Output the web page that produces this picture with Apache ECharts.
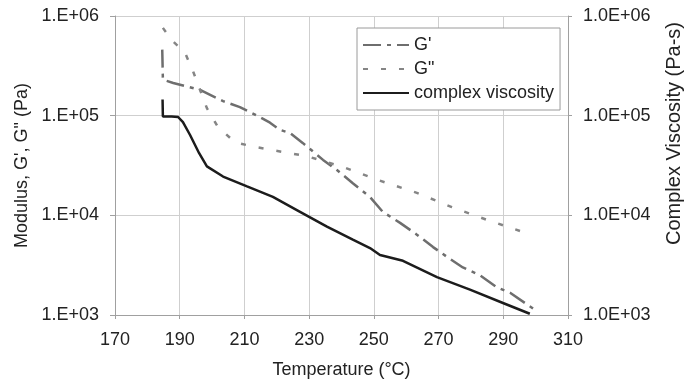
<!DOCTYPE html>
<html>
<head>
<meta charset="utf-8">
<script src="https://cdn.jsdelivr.net/npm/echarts@6/dist/echarts.min.js"></script>
<style>
html,body{margin:0;padding:0;background:#fff;}
#chart{width:684px;height:385px;}
</style>
</head>
<body>
<div id="chart"></div>
<script>
// Temperature (°C) and values
var gPrimeT   = [184.6, 184.8, 188.0, 196.3, 203.4, 208.6, 213.9, 217.9, 221.0, 224.1, 228.1, 234.3, 238.6, 243.5, 248.8, 252.8, 258.1, 263.3, 268.3, 272.6, 277.5, 282.8, 288.0, 292.1, 299.4];
var gPrimeV   = [460000, 230000, 213000, 181000, 140000, 122000, 100000, 85000, 72000, 67000, 53000, 36000, 28500, 21000, 15300, 10800, 8400, 6400, 4800, 3830, 3000, 2500, 1900, 1670, 1150];

var gDoubleT  = [184.8, 187.6, 191.6, 194.1, 198.4, 201.8, 207.1, 212.6, 218.8, 224.1, 229.6, 240.5, 251.3, 263.3, 274.1, 285.0, 296.7];
var gDoubleV  = [760000, 570000, 430000, 280000, 119000, 77000, 54000, 49000, 45000, 42000, 39000, 30500, 22600, 16800, 12100, 9000, 6700];

var viscT     = [184.7, 184.8, 187.5, 189.5, 191.0, 193.2, 196.0, 198.4, 203.4, 210.8, 218.8, 226.2, 235.5, 243.5, 248.8, 251.9, 259.0, 269.5, 279.7, 289.9, 298.2];
var viscV     = [145000, 98000, 98000, 97000, 86000, 64000, 42000, 31000, 24500, 19500, 15300, 11300, 7700, 5700, 4700, 4000, 3500, 2400, 1800, 1320, 1030];

var xTicks = [170, 190, 210, 230, 250, 270, 290, 310];
var seriesNames = ["G'", 'G"', 'complex viscosity'];

function pairs(t, v) { return t.map(function (x, i) { return [x, v[i]]; }); }

var font = 'Liberation Sans, Arial, sans-serif';
var chart = echarts.init(document.getElementById('chart'), null, {renderer: 'canvas'});
chart.setOption({
  animation: false,
  backgroundColor: '#ffffff',
  textStyle: {fontFamily: font},
  grid: {left: 115, right: 116, top: 16, bottom: 70, show: false, containLabel: false, outerBoundsMode: 'none'},
  legend: {
    orient: 'vertical',
    left: 357, top: 28,
    padding: [8, 6, 8, 5],
    itemGap: 6,
    itemWidth: 46, itemHeight: 14,
    backgroundColor: '#ffffff',
    borderColor: '#9a9a9a', borderWidth: 1, borderRadius: 0,
    itemStyle: {opacity: 0},
    textStyle: {fontFamily: font, fontSize: 18, color: '#222'},
    data: seriesNames
  },
  xAxis: {
    type: 'value', min: xTicks[0], max: xTicks[xTicks.length - 1], interval: 20,
    name: 'Temperature (°C)', nameLocation: 'middle', nameGap: 46,
    nameTextStyle: {fontFamily: font, fontSize: 18, color: '#222'},
    axisLine: {show: true, lineStyle: {color: '#a0a0a0', width: 1}},
    axisTick: {show: true, length: 4, lineStyle: {color: '#a0a0a0'}},
    axisLabel: {fontFamily: font, fontSize: 18, color: '#222', margin: 16},
    splitLine: {show: true, lineStyle: {color: '#cfcfcf', width: 1}}
  },
  yAxis: [{
    type: 'log', logBase: 10, min: 1000, max: 1000000, splitNumber: 3,
    name: 'Modulus, G\', G" (Pa)', nameLocation: 'middle', nameGap: 84, nameRotate: 90,
    nameTextStyle: {fontFamily: font, fontSize: 18, color: '#222'},
    axisLine: {show: true, lineStyle: {color: '#a0a0a0'}},
    axisTick: {show: true, length: 5, lineStyle: {color: '#a0a0a0'}},
    axisLabel: {fontFamily: font, fontSize: 18, color: '#222', margin: 16,
      formatter: function (v) { return '1.E+0' + Math.round(Math.log10(v)); }},
    splitLine: {show: true, lineStyle: {color: '#cfcfcf', width: 1}}
  }, {
    type: 'log', logBase: 10, min: 1000, max: 1000000, splitNumber: 3, position: 'right',
    name: 'Complex Viscosity (Pa-s)', nameLocation: 'middle', nameGap: 96, nameRotate: 90,
    nameTextStyle: {fontFamily: font, fontSize: 20, color: '#222', padding: [0, 0, 0, 64]},
    axisLine: {show: true, lineStyle: {color: '#a0a0a0'}},
    axisTick: {show: true, length: 4, lineStyle: {color: '#a0a0a0'}},
    axisLabel: {fontFamily: font, fontSize: 18, color: '#222', margin: 15,
      formatter: function (v) { return '1.0E+0' + Math.round(Math.log10(v)); }},
    splitLine: {show: false}
  }],
  series: [{
    name: seriesNames[0], type: 'line', yAxisIndex: 0, symbol: 'none', smooth: false,
    data: pairs(gPrimeT, gPrimeV),
    lineStyle: {color: '#6e6e6e', width: 2.5, type: [18, 6, 4, 6]},
    itemStyle: {color: '#6e6e6e'}
  }, {
    name: seriesNames[1], type: 'line', yAxisIndex: 0, symbol: 'none',
    data: pairs(gDoubleT, gDoubleV),
    lineStyle: {color: '#858585', width: 2.5, type: [5, 13]},
    itemStyle: {color: '#858585'}
  }, {
    name: seriesNames[2], type: 'line', yAxisIndex: 1, symbol: 'none',
    data: pairs(viscT, viscV),
    lineStyle: {color: '#1c1c1c', width: 2.5, type: 'solid'},
    itemStyle: {color: '#1c1c1c'}
  }]
});
</script>
</body>
</html>
